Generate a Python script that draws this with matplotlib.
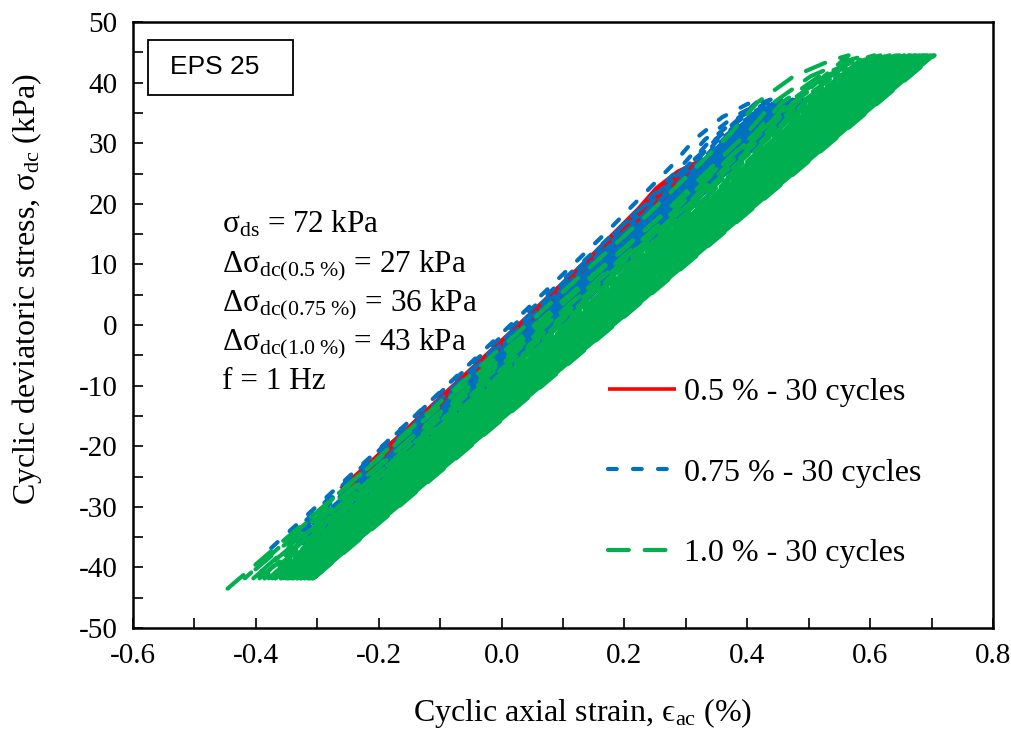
import numpy as np
import matplotlib
matplotlib.use("Agg")
import matplotlib.pyplot as plt
from matplotlib.ticker import MultipleLocator
from matplotlib.patches import Rectangle

plt.rcParams['font.family'] = ['Liberation Serif', 'DejaVu Serif']
plt.rcParams['mathtext.fontset'] = 'custom'
plt.rcParams['mathtext.rm'] = 'Liberation Serif'
plt.rcParams['mathtext.it'] = 'Liberation Serif:italic'
plt.rcParams['mathtext.default'] = 'regular'
plt.rcParams['axes.unicode_minus'] = False

# --- data ------------------------------------------------------------------
# first cycle of each test: strain (%) and stress (kPa) at trough and peak
labels = ["0.5 % - 30 cycles", "0.75 % - 30 cycles", "1.0 % - 30 cycles"]
first_trough_strain = [-0.262, -0.375, -0.446]
first_peak_strain = [0.335, 0.420, 0.565]
first_trough_stress = [-27.0, -36.8, -43.5]
trough_stress = [-27.0, -36.0, -41.8]
peak_stress = [27.5, 37.2, 44.5]

# cumulative rightward drift of each cycle (% strain), 30 cycles
drift_red = [0.000, 0.004, 0.006, 0.008, 0.010, 0.011, 0.012, 0.013, 0.014, 0.015,
             0.016, 0.017, 0.017, 0.018, 0.019, 0.019, 0.020, 0.020, 0.021, 0.021,
             0.022, 0.022, 0.023, 0.023, 0.024, 0.024, 0.025, 0.025, 0.025, 0.026]
drift_blue = [0.000, 0.018, 0.028, 0.035, 0.040, 0.044, 0.048, 0.051, 0.054, 0.056,
              0.058, 0.060, 0.062, 0.063, 0.065, 0.066, 0.067, 0.068, 0.069, 0.070,
              0.071, 0.072, 0.073, 0.074, 0.075, 0.075, 0.076, 0.077, 0.077, 0.078]
drift_green = [0.000, 0.028, 0.042, 0.052, 0.060, 0.067, 0.073, 0.078, 0.083, 0.087,
               0.091, 0.095, 0.098, 0.101, 0.104, 0.107, 0.110, 0.113, 0.115, 0.118,
               0.120, 0.123, 0.125, 0.127, 0.129, 0.131, 0.133, 0.135, 0.138, 0.140]
drifts = [drift_red, drift_blue, drift_green]

# shape of the upper-left (bowed) branch: position along loop 0=trough .. 1=peak
branch_pos = [0.0, 0.1, 0.3, 0.5, 0.7, 0.85, 0.91, 0.96, 0.99, 1.0]
branch_bow = [0.0, -0.004, -0.012, -0.018, -0.028, -0.045, -0.06, -0.05, -0.02, 0.0]
bow_scale = [0.5, 0.6, 1.0]

colors = ["#FF0000", "#0070C0", "#00B050"]
dashes = [None, (2.1, 3.9), (5.0, 3.8)]
widths = [2.6, 3.0, 3.0]

xticks = [-0.6, -0.4, -0.2, 0.0, 0.2, 0.4, 0.6, 0.8]
yticks = [-50, -40, -30, -20, -10, 0, 10, 20, 30, 40, 50]

# --- figure ------------------------------------------------------------------
fig = plt.figure(figsize=(10.12, 7.36), dpi=100)
ax = fig.add_axes([0.1314, 0.1467, 0.8498, 0.8234])

pos = np.array(branch_pos)
bow = np.array(branch_bow)
for k in range(3):
    d = drifts[k]
    for i in range(len(d)):
        t0 = first_trough_strain[k] + d[i]
        p0 = first_peak_strain[k] + d[i]
        s0 = first_trough_stress[k] if i == 0 else trough_stress[k]
        s1 = peak_stress[k]
        t1 = first_trough_strain[k] + d[min(i + 1, len(d) - 1)]
        s2 = trough_stress[k]
        u = pos[::-1]
        # loading branch straight, unloading branch bowed back to next trough
        xs = [t0, p0] + list(t1 + u * (p0 - t1) + bow[::-1] * bow_scale[k])[1:]
        ys = [s0, s1] + list(s2 + u * (s1 - s2))[1:]
        if dashes[k] is None:
            ls = "-"
        else:
            period = dashes[k][0] + dashes[k][1]
            ls = (((i * 0.618) % 1.0) * period, dashes[k])
        ax.plot(xs, ys, color=colors[k], lw=widths[k], linestyle=ls,
                dash_capstyle="round", solid_capstyle="butt",
                label=labels[k] if i == 0 else None)

ax.set_xlim(-0.6, 0.8)
ax.set_ylim(-50, 50)
ax.set_xticks(xticks)
ax.set_xticklabels([f"{v:.1f}" for v in xticks])
ax.set_yticks(yticks)
ax.xaxis.set_minor_locator(MultipleLocator(0.1))
ax.yaxis.set_minor_locator(MultipleLocator(5))
ax.tick_params(which="both", direction="in", length=7, width=1.2,
               top=False, right=False, labelsize=21, pad=11)
for sp in ax.spines.values():
    sp.set_linewidth(1.8)

ax.set_xlabel("Cyclic axial strain, ϵ$_{\\rm ac}$ (%)", fontsize=23)
ax.set_ylabel(r"Cyclic deviatoric stress, $\sigma_{\rm dc}$ (kPa)", fontsize=23)
ax.xaxis.set_label_coords(0.523, -0.112)
ax.yaxis.set_label_coords(-0.103, 0.559)

# EPS label box
ax.add_patch(Rectangle((0.017, 0.879), 0.169, 0.092, transform=ax.transAxes,
                       fill=False, lw=1.3, edgecolor="black"))
ax.text(0.043, 0.925, "EPS 25", transform=ax.transAxes, fontsize=19,
        family="Liberation Sans", va="center", ha="left")

notes = [r"$\sigma_{\rm ds}$ = 72 kPa",
         r"$\Delta\sigma_{\rm dc(0.5\ \%)}$ = 27 kPa",
         r"$\Delta\sigma_{\rm dc(0.75\ \%)}$ = 36 kPa",
         r"$\Delta\sigma_{\rm dc(1.0\ \%)}$ = 43 kPa",
         "f = 1 Hz"]
for j, t in enumerate(notes):
    ax.text(0.103, 0.652 - j * 0.0645, t, transform=ax.transAxes,
            fontsize=22.5, va="baseline", ha="left")

leg = ax.legend(loc="upper left", bbox_to_anchor=(0.552, 0.413), frameon=False,
                fontsize=23, handlelength=2.15, handletextpad=0.25,
                labelspacing=1.6, borderpad=0, borderaxespad=0)

fig.savefig("out.png", dpi=100)
